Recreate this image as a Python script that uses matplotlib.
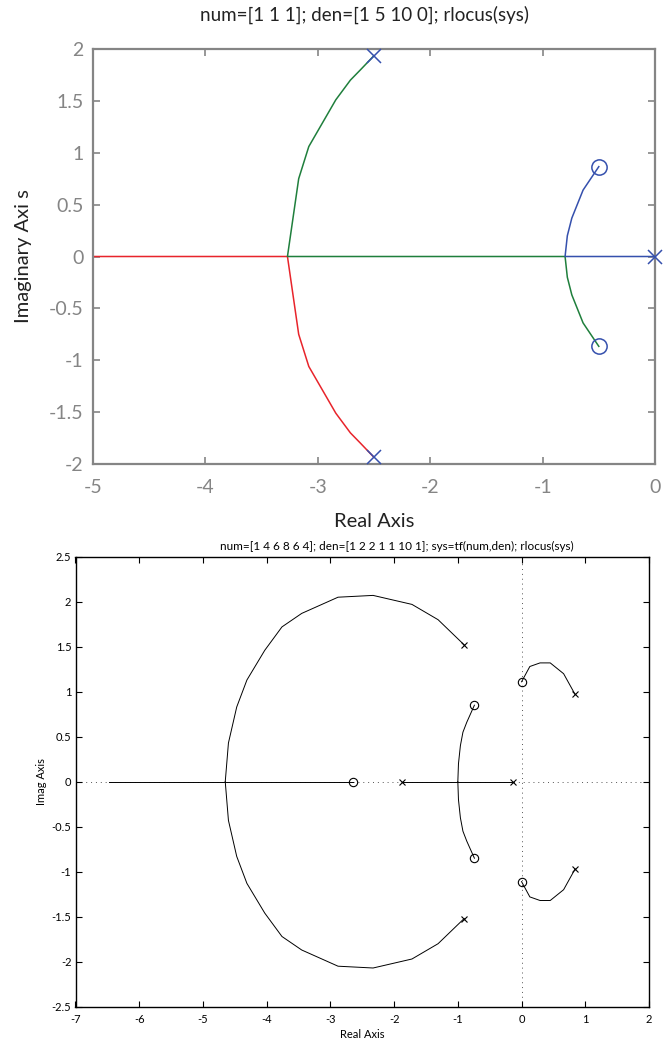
import matplotlib
matplotlib.use("Agg")
import matplotlib.pyplot as plt

plt.rcParams['font.family'] = ['Lato', 'DejaVu Sans']

# ---------------- top chart data ----------------
top_title = "num=[1 1 1]; den=[1 5 10 0]; rlocus(sys)"
top_xticks = [-5, -4, -3, -2, -1, 0]
top_yticks = [-2, -1.5, -1, -0.5, 0, 0.5, 1, 1.5, 2]
top_ytick_labels = ["-2", "-1.5", "-1", "-0.5", "0", "0.5", "1", "1.5", "2"]

top_poles_re = [0.0, -2.5, -2.5]
top_poles_im = [0.0, 1.936, -1.936]
top_zeros_re = [-0.5, -0.5]
top_zeros_im = [0.866, -0.866]

blue_re = [0.0, -0.80, -0.78, -0.74, -0.64, -0.5]
blue_im = [0.0, 0.0, 0.20, 0.37, 0.64, 0.866]

green_re = [-2.5, -2.62, -2.71, -2.84, -3.08, -3.17, -3.27, -0.80, -0.78, -0.74, -0.64, -0.5]
green_im = [1.936, 1.80, 1.70, 1.51, 1.06, 0.75, 0.0, 0.0, -0.20, -0.37, -0.64, -0.866]

red_re = [-2.5, -2.62, -2.71, -2.84, -3.08, -3.17, -3.27, -5.2]
red_im = [-1.936, -1.80, -1.70, -1.51, -1.06, -0.75, 0.0, 0.0]

# ---------------- bottom chart data ----------------
bot_title = "num=[1 4 6 8 6 4]; den=[1 2 2 1 1 10 1]; sys=tf(num,den); rlocus(sys)"
bot_xticks = [-7, -6, -5, -4, -3, -2, -1, 0, 1, 2]
bot_yticks = [-2.5, -2, -1.5, -1, -0.5, 0, 0.5, 1, 1.5, 2, 2.5]
bot_ytick_labels = ["-2.5", "-2", "-1.5", "-1", "-0.5", "0", "0.5", "1", "1.5", "2", "2.5"]

bot_poles_re = [-0.9, -0.9, -1.88, -0.13, 0.84, 0.84]
bot_poles_im = [1.52, -1.52, 0.0, 0.0, 0.97, -0.97]
bot_zeros_re = [-2.65, -0.74, -0.74, 0.0, 0.0]
bot_zeros_im = [0.0, 0.85, -0.85, 1.11, -1.11]

big_up_re = [-0.9, -1.31, -1.72, -2.33, -2.88, -3.45, -3.76, -4.03, -4.31, -4.47, -4.60, -4.65]
big_up_im = [1.52, 1.80, 1.97, 2.07, 2.05, 1.87, 1.72, 1.46, 1.13, 0.83, 0.43, 0.0]
big_lo_re = [-0.9, -1.31, -1.72, -2.33, -2.88, -3.45, -3.76, -4.03, -4.31, -4.47, -4.60, -4.65]
big_lo_im = [-1.52, -1.80, -1.97, -2.07, -2.05, -1.87, -1.72, -1.46, -1.13, -0.83, -0.43, 0.0]

left_axis_re = [-6.47, -2.65]
left_axis_im = [0.0, 0.0]
mid_axis_re = [-1.88, -0.13]
mid_axis_im = [0.0, 0.0]

mid_up_re = [-1.0, -0.99, -0.96, -0.92, -0.86, -0.74]
mid_up_im = [0.0, 0.20, 0.40, 0.55, 0.66, 0.85]
mid_lo_re = [-1.0, -0.99, -0.96, -0.92, -0.86, -0.74]
mid_lo_im = [0.0, -0.20, -0.40, -0.55, -0.66, -0.85]

arc_up_re = [0.84, 0.66, 0.45, 0.29, 0.13, 0.0]
arc_up_im = [0.97, 1.20, 1.32, 1.32, 1.28, 1.11]
arc_lo_re = [0.84, 0.66, 0.45, 0.29, 0.13, 0.0]
arc_lo_im = [-0.97, -1.20, -1.32, -1.32, -1.28, -1.11]

# ---------------- figure ----------------
fig = plt.figure(figsize=(6.63, 10.44), dpi=100)
W, H = 663.0, 1044.0

def box(l, t, r, b):
    return [l / W, 1 - b / H, (r - l) / W, (b - t) / H]

BLUE = '#3550ad'
GREEN = '#1f7f3c'
RED = '#e8242b'
GRAY = '#858585'

ax1 = fig.add_axes(box(93, 49, 655, 464))
ax1.plot(red_re, red_im, color=RED, lw=1.1, zorder=2)
ax1.plot(green_re, green_im, color=GREEN, lw=1.1, zorder=3)
ax1.plot(blue_re, blue_im, color=BLUE, lw=1.1, zorder=4)
ax1.plot(top_poles_re, top_poles_im, linestyle='none', marker='x', ms=10,
         mew=1.1, color=BLUE, zorder=5, clip_on=False)
ax1.plot(top_zeros_re, top_zeros_im, linestyle='none', marker='o', ms=11,
         mew=1.1, mfc='none', mec=BLUE, zorder=5)
ax1.set_xlim(-5, 0)
ax1.set_ylim(-2, 2)
ax1.set_xticks(top_xticks)
ax1.set_xticklabels([str(v) for v in top_xticks])
ax1.set_yticks(top_yticks)
ax1.set_yticklabels(top_ytick_labels)
for s in ax1.spines.values():
    s.set_color(GRAY)
    s.set_linewidth(1.6)
ax1.tick_params(direction='in', length=5, width=1.2, color=GRAY,
                labelcolor=GRAY, labelsize=14, top=True, right=True)
ax1.tick_params(axis='x', pad=11)
ax1.tick_params(axis='y', pad=7)
ax1.set_xlabel("Real Axis", fontsize=14.5, labelpad=12, color='#222222')
ax1.set_ylabel("Imaginary Axi s", fontsize=14.5, labelpad=12, color='#222222')
ax1.set_title(top_title, fontsize=13.5, pad=20, color='#222222',
              x=(365 - 93) / (655 - 93))

ax2 = fig.add_axes(box(75.5, 556.7, 649, 1006.7))
ax2.axhline(0, color='#555555', lw=0.7, ls=(0, (1, 4)), zorder=1)
ax2.axvline(0, color='#555555', lw=0.7, ls=(0, (1, 4)), zorder=1)
LW = 0.7
for xs, ys in [(big_up_re, big_up_im), (big_lo_re, big_lo_im),
               (left_axis_re, left_axis_im), (mid_axis_re, mid_axis_im),
               (mid_up_re, mid_up_im), (mid_lo_re, mid_lo_im),
               (arc_up_re, arc_up_im), (arc_lo_re, arc_lo_im)]:
    ax2.plot(xs, ys, color='black', lw=LW, zorder=2)
ax2.plot(bot_poles_re, bot_poles_im, linestyle='none', marker='x', ms=5,
         mew=0.8, color='black', zorder=3)
ax2.plot(bot_zeros_re, bot_zeros_im, linestyle='none', marker='o', ms=6,
         mew=0.8, mfc='none', mec='black', zorder=3)
ax2.set_xlim(-7, 2)
ax2.set_ylim(-2.5, 2.5)
ax2.set_xticks(bot_xticks)
ax2.set_xticklabels([str(v) for v in bot_xticks])
ax2.set_yticks(bot_yticks)
ax2.set_yticklabels(bot_ytick_labels)
for s in ax2.spines.values():
    s.set_color('black')
    s.set_linewidth(1.0)
ax2.tick_params(direction='in', length=4, width=0.8, labelsize=8,
                top=True, right=True)
ax2.tick_params(axis='x', pad=5)
ax2.tick_params(axis='y', pad=3)
ax2.set_xlabel("Real Axis", fontsize=8, labelpad=3)
ax2.set_ylabel("Imag Axis", fontsize=8, labelpad=3)
ax2.set_title(bot_title, fontsize=8.5, pad=5, x=(397 - 75.5) / (649 - 75.5))

fig.savefig("out.png", dpi=100)
